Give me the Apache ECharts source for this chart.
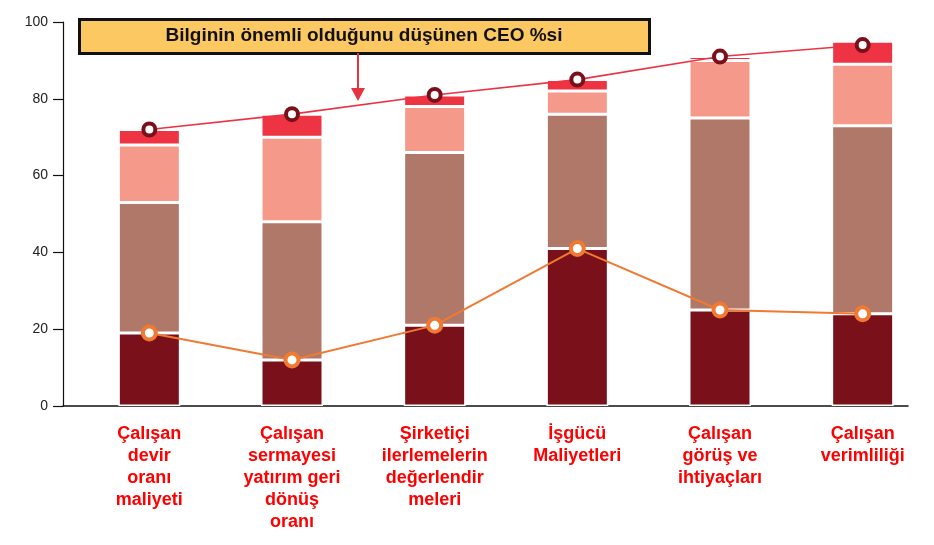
<!DOCTYPE html>
<html>
<head>
<meta charset="utf-8">
<script src="https://cdn.jsdelivr.net/npm/echarts@6/dist/echarts.min.js"></script>
<style>html,body{margin:0;padding:0;background:#fff}#c{width:934px;height:545px}</style>
</head>
<body>
<div id="c"></div>
<script>
var categories = [
  "Çalışan\ndevir\noranı\nmaliyeti",
  "Çalışan\nsermayesi\nyatırım geri\ndönüş\noranı",
  "Şirketiçi\nilerlemelerin\ndeğerlendir\nmeleri",
  "İşgücü\nMaliyetleri",
  "Çalışan\ngörüş ve\nihtiyaçları",
  "Çalışan\nverimliliği"
];
var segDark  = [19, 12, 21, 41, 25, 24];
var segBrown = [34, 36, 45, 35, 50, 49];
var segPink  = [15, 22, 12, 6, 15, 16];
var segRed   = [4, 6, 3, 3, 1, 6];
var ceoLine    = [72, 76, 81, 85, 91, 94];
var orangeLine = [19, 12, 21, 41, 25, 24];
var yTicks = [0, 20, 40, 60, 80, 100];
var annotationText = "Bilginin önemli olduğunu düşünen CEO %si";

var chart = echarts.init(document.getElementById('c'), null, {renderer: 'canvas'});
var FONT = '"Liberation Sans", Arial, Helvetica, sans-serif';

function barSeries(name, data, color) {
  return {
    name: name, type: 'bar', stack: 'total', xAxisIndex: 0, yAxisIndex: 0,
    data: data, barWidth: 62,
    itemStyle: {color: color, borderColor: '#ffffff', borderWidth: 1.5},
    z: 2
  };
}

var option = {
  backgroundColor: '#ffffff',
  animation: false,
  grid: [
    {left: 78, right: 0, top: 22, bottom: 139},
    {left: 63, right: 26, top: 22, bottom: 139}
  ],
  xAxis: [
    {
      type: 'category', gridIndex: 0, data: categories,
      axisLine: {show: false}, axisTick: {show: false},
      axisLabel: {
        interval: 0, margin: 17, color: '#ff0000', fontFamily: FONT,
        fontWeight: 'bold', fontSize: 18, lineHeight: 22
      }
    },
    {
      type: 'value', gridIndex: 1, min: 0, max: 1,
      axisLine: {show: true, lineStyle: {color: '#111', width: 1.5}},
      axisTick: {show: false}, axisLabel: {show: false}, splitLine: {show: false}
    }
  ],
  yAxis: [
    {
      type: 'value', gridIndex: 0, min: 0, max: 100, interval: 20,
      axisLine: {show: false}, axisTick: {show: false}, axisLabel: {show: false}, splitLine: {show: false}
    },
    {
      type: 'value', gridIndex: 1, min: yTicks[0], max: yTicks[yTicks.length - 1], interval: 20,
      axisLine: {show: true, lineStyle: {color: '#111', width: 1.2}},
      axisTick: {show: true, inside: false, length: 10, lineStyle: {color: '#111', width: 1.2}},
      axisLabel: {color: '#222', fontFamily: FONT, fontSize: 14, margin: 15},
      splitLine: {show: false}
    }
  ],
  series: [
    barSeries('dark', segDark, '#7a111a'),
    barSeries('brown', segBrown, '#b07868'),
    barSeries('pink', segPink, '#f59a8b'),
    barSeries('red', segRed, '#ee3342'),
    {
      name: 'ceo', type: 'line', xAxisIndex: 0, yAxisIndex: 0, data: ceoLine,
      lineStyle: {color: '#ec3344', width: 1.6},
      symbol: 'circle', symbolSize: 12,
      itemStyle: {color: '#ffffff', borderColor: '#7a111a', borderWidth: 4},
      z: 5
    },
    {
      name: 'orange', type: 'line', xAxisIndex: 0, yAxisIndex: 0, data: orangeLine,
      lineStyle: {color: '#f07a33', width: 2},
      symbol: 'circle', symbolSize: 13,
      itemStyle: {color: '#ffffff', borderColor: '#f07a33', borderWidth: 4},
      z: 5
    }
  ],
  graphic: [
    {
      type: 'rect', left: 78, top: 18, z: 10,
      shape: {width: 570, height: 34},
      style: {fill: '#fcc862', stroke: '#111111', lineWidth: 3}
    },
    {
      type: 'text', x: 364, y: 36, z: 11,
      style: {
        text: annotationText, fill: '#111111', font: 'bold 19px ' + FONT,
        align: 'center', verticalAlign: 'middle'
      }
    },
    {
      type: 'line', z: 10,
      shape: {x1: 358, y1: 53, x2: 358, y2: 90},
      style: {stroke: '#e8333f', lineWidth: 2}
    },
    {
      type: 'polygon', z: 10,
      shape: {points: [[351, 88], [365, 88], [358, 101]]},
      style: {fill: '#e8333f'}
    }
  ]
};
chart.setOption(option);
</script>
</body>
</html>
